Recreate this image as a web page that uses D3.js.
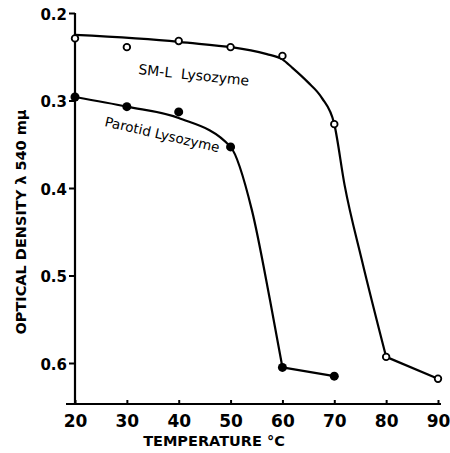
<!DOCTYPE html>
<html>
<head>
<meta charset="utf-8">
<script src="https://d3js.org/d3.v7.min.js"></script>
<style>
body { margin: 0; background: #fff; }
svg text { font-family: "DejaVu Sans", sans-serif; }
</style>
</head>
<body>
<div id="chart"></div>
<script>

// readings
var tempTicks = [20, 30, 40, 50, 60, 70, 80, 90];
var odTicks = [0.2, 0.3, 0.4, 0.5, 0.6];

var smlTemp = [20, 30, 40, 50, 60, 70, 80, 90];
var smlOD   = [0.229, 0.239, 0.232, 0.239, 0.249, 0.327, 0.593, 0.618];
var parTemp = [20, 30, 40, 50, 60, 70];
var parOD   = [0.296, 0.307, 0.313, 0.353, 0.605, 0.615];

// hand-drawn fit lines, knots
var smlFitTemp = [20, 40, 57, 60, 61.8, 64.9, 67.6, 70, 72, 75.3, 80];
var smlFitOD   = [0.225, 0.233, 0.247, 0.253, 0.262, 0.279, 0.297, 0.327, 0.397, 0.482, 0.593];
var smlTailTemp = [80, 90];
var smlTailOD   = [0.593, 0.618];
var parFitTemp = [20, 30, 40, 50, 54.1, 57.6, 60];
var parFitOD   = [0.296, 0.307, 0.320, 0.353, 0.425, 0.528, 0.605];
var parTailTemp = [60, 70];
var parTailOD   = [0.605, 0.615];

var W = 450, H = 453;

var svg = d3.select("#chart").append("svg")
  .attr("width", W)
  .attr("height", H);

var x = d3.scaleLinear().domain([20, 90]).range([75, 438]);
var y = d3.scaleLinear().domain([0.2, 0.6]).range([13, 363]);
var axisY = 404;

// axes
svg.append("line")
  .attr("x1", x(20)).attr("x2", x(20))
  .attr("y1", y(0.2)).attr("y2", axisY)
  .attr("stroke", "#000").attr("stroke-width", 2.2);
svg.append("line")
  .attr("x1", 66).attr("x2", 441)
  .attr("y1", axisY).attr("y2", axisY)
  .attr("stroke", "#000").attr("stroke-width", 2.2);

var yAx = svg.append("g")
  .attr("transform", "translate(" + x(20) + ",0)")
  .call(d3.axisLeft(y).tickValues(odTicks).tickSize(6).tickPadding(2).tickFormat(d3.format(".1f")));
yAx.select(".domain").remove();
yAx.selectAll("line").attr("stroke-width", 2);
yAx.selectAll("text")
  .attr("font-size", 15).attr("font-weight", "bold")
  .attr("font-family", "DejaVu Sans").attr("dy", "0.4em");

var xAx = svg.append("g")
  .attr("transform", "translate(0," + axisY + ")")
  .call(d3.axisBottom(x).tickValues(tempTicks).tickSize(-4).tickPadding(11));
xAx.select(".domain").remove();
xAx.selectAll("line").attr("stroke-width", 2);
xAx.selectAll("text")
  .attr("font-size", 17).attr("font-weight", "bold")
  .attr("font-family", "DejaVu Sans");

svg.append("text")
  .attr("x", 214).attr("y", 446)
  .attr("text-anchor", "middle")
  .attr("font-size", 14.5).attr("font-weight", "bold")
  .text("TEMPERATURE °C");

svg.append("text")
  .attr("transform", "translate(26,222) rotate(-90)")
  .attr("text-anchor", "middle")
  .attr("font-size", 14.5).attr("font-weight", "bold")
  .text("OPTICAL DENSITY λ 540 mμ");

// fit lines
var smooth = d3.line()
  .x(d => x(d[0])).y(d => y(d[1]))
  .curve(d3.curveMonotoneX);
var straight = d3.line()
  .x(d => x(d[0])).y(d => y(d[1]));

function pairs(a, b) { return a.map((v, i) => [v, b[i]]); }

svg.append("path").attr("d", smooth(pairs(smlFitTemp, smlFitOD)))
  .attr("fill", "none").attr("stroke", "#000").attr("stroke-width", 2.2);
svg.append("path").attr("d", straight(pairs(smlTailTemp, smlTailOD)))
  .attr("fill", "none").attr("stroke", "#000").attr("stroke-width", 2.2);
svg.append("path").attr("d", smooth(pairs(parFitTemp, parFitOD)))
  .attr("fill", "none").attr("stroke", "#000").attr("stroke-width", 2.2);
svg.append("path").attr("d", straight(pairs(parTailTemp, parTailOD)))
  .attr("fill", "none").attr("stroke", "#000").attr("stroke-width", 2.2);

// points
svg.selectAll("circle.sml")
  .data(pairs(smlTemp, smlOD))
  .enter().append("circle")
    .attr("class", "sml")
    .attr("cx", d => x(d[0]))
    .attr("cy", d => y(d[1]))
    .attr("r", 3.3)
    .attr("fill", "#fff")
    .attr("stroke", "#000")
    .attr("stroke-width", 1.8);

svg.selectAll("circle.par")
  .data(pairs(parTemp, parOD))
  .enter().append("circle")
    .attr("class", "par")
    .attr("cx", d => x(d[0]))
    .attr("cy", d => y(d[1]))
    .attr("r", 4.5)
    .attr("fill", "#000");

// curve labels
svg.append("text")
  .attr("transform", "translate(138,74) rotate(6)")
  .attr("font-size", 14)
  .attr("xml:space", "preserve")
  .text("SM-L  Lysozyme");

svg.append("text")
  .attr("transform", "translate(104,126) rotate(13)")
  .attr("font-size", 13.5)
  .text("Parotid Lysozyme");

</script>
</body>
</html>
